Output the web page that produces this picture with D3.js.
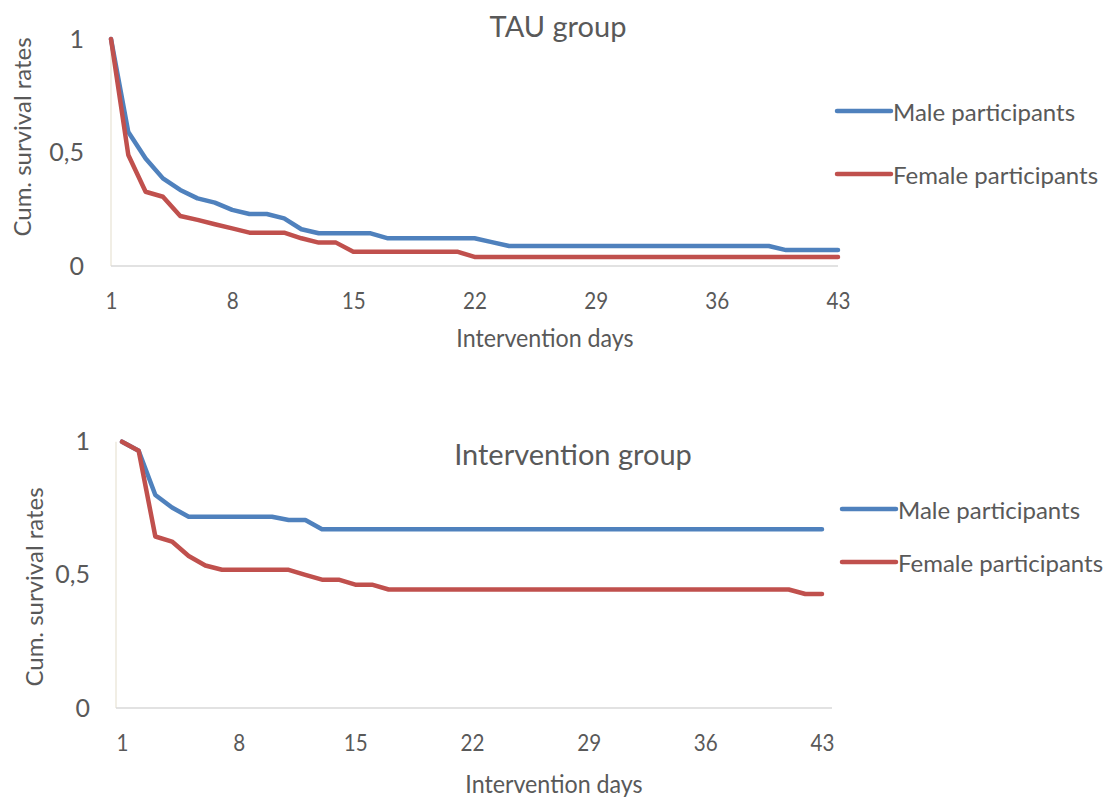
<!DOCTYPE html>
<html>
<head>
<meta charset="utf-8">
<script src="https://cdn.jsdelivr.net/npm/d3@7"></script>
<style>
  html, body { margin: 0; padding: 0; background: #ffffff; }
  svg { display: block; }
  text { font-family: Lato, "Noto Sans", sans-serif; fill: #595959; }
</style>
</head>
<body>
<svg id="chart" width="1107" height="798"></svg>
<script>
// Intervention days (x categories)
const days = d3.range(1, 44);
const dayTicks = [1, 8, 15, 22, 29, 36, 43];
const rateTicks = [0, 0.5, 1];

// TAU group: cumulative survival rates by day
const tauMale = [
  1.0, 0.59, 0.474, 0.386, 0.335, 0.298, 0.279, 0.247, 0.229, 0.229,
  0.21, 0.162, 0.144, 0.144, 0.144, 0.144, 0.122, 0.122, 0.122, 0.122,
  0.122, 0.122, 0.105, 0.088, 0.088, 0.088, 0.088, 0.088, 0.088, 0.088,
  0.088, 0.088, 0.088, 0.088, 0.088, 0.088, 0.088, 0.088, 0.088, 0.07,
  0.07, 0.07, 0.07
];
const tauFemale = [
  1.0, 0.489, 0.327, 0.305, 0.22, 0.203, 0.184, 0.166, 0.147, 0.147,
  0.147, 0.122, 0.103, 0.103, 0.063, 0.063, 0.063, 0.063, 0.063, 0.063,
  0.063, 0.04, 0.04, 0.04, 0.04, 0.04, 0.04, 0.04, 0.04, 0.04,
  0.04, 0.04, 0.04, 0.04, 0.04, 0.04, 0.04, 0.04, 0.04, 0.04,
  0.04, 0.04, 0.04
];

// Intervention group: cumulative survival rates by day
const intMale = [
  1.0, 0.966, 0.80, 0.753, 0.718, 0.718, 0.718, 0.718, 0.718, 0.718,
  0.706, 0.706, 0.671, 0.671, 0.671, 0.671, 0.671, 0.671, 0.671, 0.671,
  0.671, 0.671, 0.671, 0.671, 0.671, 0.671, 0.671, 0.671, 0.671, 0.671,
  0.671, 0.671, 0.671, 0.671, 0.671, 0.671, 0.671, 0.671, 0.671, 0.671,
  0.671, 0.671, 0.671
];
const intFemale = [
  1.0, 0.966, 0.644, 0.625, 0.571, 0.535, 0.519, 0.519, 0.519, 0.519,
  0.519, 0.5, 0.482, 0.482, 0.463, 0.463, 0.445, 0.445, 0.445, 0.445,
  0.445, 0.445, 0.445, 0.445, 0.445, 0.445, 0.445, 0.445, 0.445, 0.445,
  0.445, 0.445, 0.445, 0.445, 0.445, 0.445, 0.445, 0.445, 0.445, 0.445,
  0.445, 0.428, 0.428
];

const seriesNames = ["Male participants", "Female participants"];
const seriesColors = ["#4f81bd", "#c0504d"];

const svg = d3.select("#chart");
const fmt = d => String(d).replace(".", ",");

function drawPanel(p) {
  const x = d3.scaleLinear().domain([1, 43]).range([p.x0, p.x1]);
  const y = d3.scaleLinear().domain([0, 1]).range([p.yBottom, p.yTop]);
  const g = svg.append("g");

  // axis lines
  g.append("line")
    .attr("x1", p.axisLeft).attr("x2", p.axisLeft)
    .attr("y1", y(1)).attr("y2", y(0))
    .attr("stroke", "#ede8dc").attr("stroke-width", 1.5);
  g.append("line")
    .attr("x1", p.axisLeft).attr("x2", p.axisRight)
    .attr("y1", y(0)).attr("y2", y(0))
    .attr("stroke", "#d9d9d9").attr("stroke-width", 1.5);

  // y tick labels
  const yAxis = g.append("g")
    .attr("transform", `translate(${p.yLabelX},0)`)
    .call(d3.axisLeft(y).tickValues(rateTicks).tickFormat(fmt).tickSize(0).tickPadding(0));
  yAxis.select(".domain").remove();
  yAxis.selectAll("text")
    .attr("font-size", 25).attr("fill", "#595959")
    .style("font-family", "Lato, 'Noto Sans', sans-serif");

  // x tick labels, narrowed horizontally around each tick
  const xAxis = g.append("g")
    .attr("transform", `translate(0,${p.xLabelY})`)
    .call(d3.axisBottom(x).tickValues(dayTicks).tickFormat(d3.format("d")).tickSize(0).tickPadding(0));
  xAxis.select(".domain").remove();
  xAxis.selectAll("text")
    .attr("font-size", 24).attr("fill", "#595959")
    .style("font-family", "Lato, 'Noto Sans', sans-serif")
    .attr("dy", "0.35em")
    .attr("transform", "scale(0.86,1)");

  // axis titles
  g.append("text")
    .attr("x", p.xTitleX).attr("y", p.xTitleY)
    .attr("text-anchor", "middle").attr("dominant-baseline", "central")
    .attr("font-size", 25)
    .attr("transform", `translate(${p.xTitleX},0) scale(0.93,1) translate(${-p.xTitleX},0)`)
    .text("Intervention days");
  g.append("text")
    .attr("transform", `translate(${p.yTitleX},${p.yTitleY}) rotate(-90)`)
    .attr("text-anchor", "middle").attr("dominant-baseline", "central")
    .attr("font-size", 24)
    .text("Cum. survival rates");

  // chart title
  g.append("text")
    .attr("x", p.titleX).attr("y", p.titleY)
    .attr("text-anchor", "middle").attr("dominant-baseline", "central")
    .attr("font-size", 29)
    .text(p.title);

  // survival lines
  const line = d3.line()
    .x((d, i) => x(days[i]))
    .y(d => y(d));
  p.series.forEach((s, k) => {
    g.append("path")
      .datum(s)
      .attr("d", line)
      .attr("fill", "none")
      .attr("stroke", seriesColors[k])
      .attr("stroke-width", 4.5)
      .attr("stroke-linejoin", "round")
      .attr("stroke-linecap", "round");
  });

  // legend
  seriesNames.forEach((name, k) => {
    const ly = p.legendY[k];
    g.append("line")
      .attr("x1", p.legendX).attr("x2", p.legendX + 54)
      .attr("y1", ly).attr("y2", ly)
      .attr("stroke", seriesColors[k]).attr("stroke-width", 4.5)
      .attr("stroke-linecap", "round");
    g.append("text")
      .attr("x", p.legendX + 56).attr("y", ly)
      .attr("dominant-baseline", "central")
      .attr("font-size", 24)
      .text(name);
  });
}

drawPanel({
  title: "TAU group", titleX: 558, titleY: 25,
  x0: 111, x1: 838, yTop: 39, yBottom: 266,
  axisLeft: 111, axisRight: 838,
  yLabelX: 84, xLabelY: 301,
  xTitleX: 545, xTitleY: 337,
  yTitleX: 21, yTitleY: 137,
  series: [tauMale, tauFemale],
  legendX: 837, legendY: [111, 174]
});

drawPanel({
  title: "Intervention group", titleX: 573, titleY: 453,
  x0: 122, x1: 822, yTop: 441.7, yBottom: 708,
  axisLeft: 116, axisRight: 832,
  yLabelX: 90, xLabelY: 743,
  xTitleX: 554, xTitleY: 783,
  yTitleX: 33, yTitleY: 587,
  series: [intMale, intFemale],
  legendX: 842, legendY: [509, 562]
});
</script>
</body>
</html>
